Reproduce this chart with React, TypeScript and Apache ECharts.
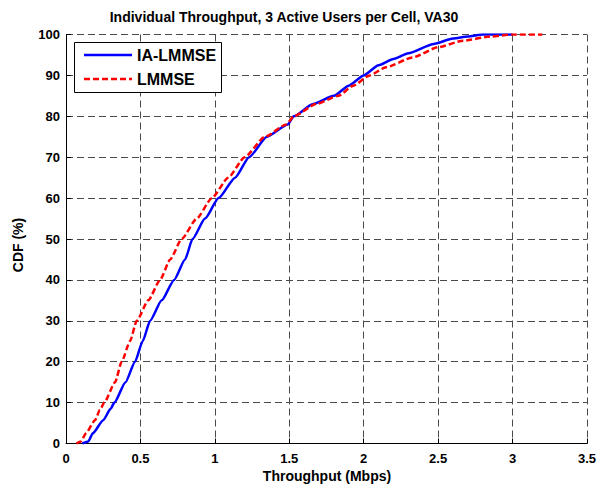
import React, { useEffect, useRef } from "react";
import * as echarts from "echarts";

const titleText = "Individual Throughput, 3 Active Users per Cell, VA30";
const xName = "Throughput (Mbps)";
const yName = "CDF (%)";
const seriesNames = ["IA-LMMSE", "LMMSE"];
const seriesColors = ["#0000ff", "#ff0000"];

const iaLmmse: [number, number][] = [
  [0.11, 0], [0.15, 0.5], [0.18, 2.5], [0.25, 5.7], [0.3, 8.5], [0.325, 10],
  [0.4, 15], [0.464, 20], [0.515, 25], [0.565, 30], [0.643, 35], [0.726, 40],
  [0.8, 45], [0.85, 50], [0.934, 55], [1.025, 60], [1.136, 65], [1.23, 70],
  [1.35, 75], [1.49, 78], [1.53, 80], [1.66, 83], [1.8, 85], [1.9, 87.5],
  [2.0, 90], [2.1, 92.5], [2.2, 94], [2.3, 95.4], [2.47, 97.7], [2.6, 99],
  [2.7, 99.5], [2.8, 100], [3.0, 100],
];

const lmmse: [number, number][] = [
  [0.07, 0], [0.1, 0.5], [0.134, 2.5], [0.195, 5.7], [0.228, 8.2], [0.257, 10],
  [0.33, 15], [0.374, 20], [0.43, 25], [0.475, 30], [0.553, 35], [0.632, 40],
  [0.7, 45], [0.777, 50], [0.878, 55], [0.98, 60], [1.09, 65], [1.2, 70],
  [1.337, 75], [1.48, 78], [1.53, 80], [1.68, 83], [1.83, 85], [1.93, 87.5],
  [2.04, 90], [2.15, 92], [2.33, 94.4], [2.5, 96.9], [2.67, 98.5], [2.85, 99.5],
  [3.0, 100], [3.2, 100],
];

const FONT = "'Liberation Sans', Arial, sans-serif";

export default function App() {
  const ref = useRef<HTMLDivElement>(null);
  useEffect(() => {
    if (!ref.current) return;
    const chart = echarts.init(ref.current, null, { renderer: "svg" });
    const split = {
      show: true,
      lineStyle: { color: "#4a4a4a", width: 1, type: [7, 4] as number[] },
    };
    const legendRows = [55, 79];
    const legendGraphics: any[] = [
      {
        type: "rect",
        shape: { x: 74.5, y: 42.5, width: 147, height: 50 },
        style: { fill: "#ffffff", stroke: "#000000", lineWidth: 1 },
        z: 100,
      },
    ];
    seriesNames.forEach((name, i) => {
      legendGraphics.push({
        type: "line",
        shape: { x1: 84, y1: legendRows[i], x2: 132, y2: legendRows[i] },
        style: {
          stroke: seriesColors[i],
          lineWidth: 2.5,
          lineDash: i === 1 ? [6, 3] : null,
        },
        z: 101,
      });
      legendGraphics.push({
        type: "text",
        x: 137,
        y: legendRows[i],
        style: {
          text: name, fontFamily: FONT, fontWeight: "bold", fontSize: 16, fill: "#000",
          verticalAlign: "middle", align: "left",
        },
        z: 101,
      });
    });
    chart.setOption({
      animation: false,
      backgroundColor: "#ffffff",
      grid: { left: 66, right: 12, top: 34.5, bottom: 43.5, containLabel: false },
      graphic: [
        {
          type: "text",
          x: 284,
          y: 17,
          style: {
            text: titleText, fontFamily: FONT, fontWeight: "bold", fontSize: 14, fill: "#000",
            align: "center", verticalAlign: "middle",
          },
        },
        {
          type: "text",
          x: 327,
          y: 476,
          style: {
            text: xName, fontFamily: FONT, fontWeight: "bold", fontSize: 14, fill: "#000",
            align: "center", verticalAlign: "middle",
          },
        },
        {
          type: "text",
          x: 18,
          y: 245,
          rotation: Math.PI / 2,
          style: {
            text: yName, fontFamily: FONT, fontWeight: "bold", fontSize: 14, fill: "#000",
            align: "center", verticalAlign: "middle",
          },
        },
        ...legendGraphics,
      ],
      xAxis: {
        type: "value",
        min: 0,
        max: 3.5,
        interval: 0.5,
        axisLine: { show: true, onZero: false, lineStyle: { color: "#000", width: 1 } },
        axisTick: { show: true, inside: true, length: 5, lineStyle: { color: "#000" } },
        axisLabel: { fontFamily: FONT, fontWeight: "bold", fontSize: 13, color: "#000", margin: 8 },
        splitLine: split,
      },
      yAxis: {
        type: "value",
        min: 0,
        max: 100,
        interval: 10,
        axisLine: { show: true, onZero: false, lineStyle: { color: "#000", width: 1 } },
        axisTick: { show: true, inside: true, length: 5, lineStyle: { color: "#000" } },
        axisLabel: { fontFamily: FONT, fontWeight: "bold", fontSize: 13, color: "#000", margin: 6 },
        splitLine: split,
      },
      series: [
        {
          name: seriesNames[0],
          type: "line",
          data: iaLmmse,
          showSymbol: false,
          symbol: "none",
          smooth: 0.2,
          smoothMonotone: "x",
          color: seriesColors[0],
          lineStyle: { color: seriesColors[0], width: 2.5, type: "solid" },
        },
        {
          name: seriesNames[1],
          type: "line",
          data: lmmse,
          showSymbol: false,
          symbol: "none",
          smooth: 0.2,
          smoothMonotone: "x",
          color: seriesColors[1],
          lineStyle: { color: seriesColors[1], width: 2.5, type: [6, 3] },
        },
      ],
    });
    return () => chart.dispose();
  }, []);
  return <div ref={ref} style={{ width: 599, height: 487, position: "absolute", left: 0, top: 0 }} />;
}
